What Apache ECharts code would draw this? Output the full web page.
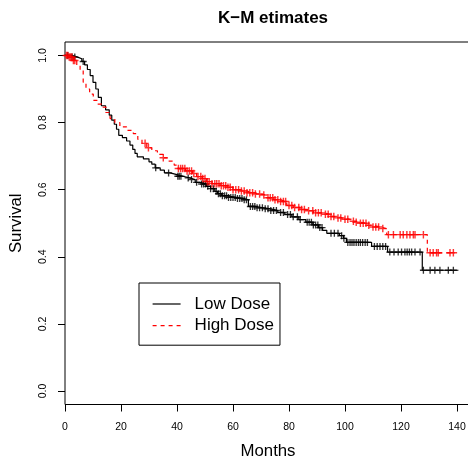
<!DOCTYPE html>
<html>
<head>
<meta charset="utf-8">
<title>K−M etimates</title>
<script src="https://cdn.jsdelivr.net/npm/echarts@6/dist/echarts.min.js"></script>
<style>
  html, body { margin: 0; padding: 0; background: #fff; }
  #chart { width: 468px; height: 458px; }
</style>
</head>
<body>
<div id="chart"></div>
<script>
// Kaplan–Meier step points [month, survival after the drop]
const lowDoseSteps = [
  [0, 1.0], [2.5, 0.995], [4.5, 0.99], [6, 0.982], [7, 0.972], [8, 0.958],
  [9, 0.94], [10, 0.92], [11, 0.9], [11.9, 0.875], [13, 0.85], [14.5, 0.838],
  [15.8, 0.822], [16.7, 0.807], [17.6, 0.795], [18.4, 0.78], [19.2, 0.762],
  [20.5, 0.755], [22, 0.745], [23.2, 0.733], [24.2, 0.72], [25, 0.708],
  [25.8, 0.698], [28, 0.692], [30, 0.683], [31, 0.676], [32.2, 0.665],
  [34, 0.658], [35.5, 0.65], [37.5, 0.645], [40, 0.64], [42, 0.635],
  [44.5, 0.63], [46.5, 0.622], [48.5, 0.617], [50.5, 0.61], [52, 0.603],
  [53.5, 0.595], [54.5, 0.588], [56, 0.582], [58, 0.577], [61, 0.574],
  [63.5, 0.57], [65.5, 0.55], [68, 0.546], [71, 0.543], [73.5, 0.538],
  [76, 0.532], [78.5, 0.526], [81, 0.519], [83.5, 0.511], [86, 0.503],
  [88.5, 0.495], [90.5, 0.487], [92, 0.479], [93.5, 0.47], [98, 0.463],
  [99.5, 0.455], [100.5, 0.443], [109.5, 0.431], [115.2, 0.414],
  [127.6, 0.36], [140.5, 0.36]
];
const highDoseSteps = [
  [0, 1.0], [1.5, 0.995], [3, 0.985], [4.2, 0.97], [5.4, 0.955], [6.5, 0.92],
  [7.5, 0.9], [8.8, 0.885], [10.1, 0.866], [11.5, 0.855], [13.1, 0.846],
  [14.6, 0.83], [16.1, 0.812], [17.8, 0.8], [19.6, 0.787], [22, 0.777],
  [24.4, 0.767], [26, 0.75], [27.5, 0.738], [29.2, 0.725], [31, 0.716],
  [33, 0.705], [35.1, 0.695], [37, 0.685], [39, 0.673], [40.5, 0.663],
  [43, 0.656], [45.5, 0.648], [47, 0.639], [49, 0.633], [50.6, 0.624],
  [52.5, 0.618], [55.4, 0.612], [57.7, 0.607], [60, 0.6], [62.5, 0.596],
  [64.9, 0.591], [67.3, 0.587], [69.6, 0.584], [72, 0.576], [74.5, 0.57],
  [76.8, 0.565], [79.2, 0.553], [81.5, 0.547], [83.9, 0.541], [86, 0.537],
  [88.7, 0.531], [92.3, 0.527], [94.5, 0.52], [97, 0.516], [99, 0.512],
  [101.8, 0.506], [103.5, 0.503], [105.4, 0.5], [107.7, 0.494],
  [109.5, 0.489], [112.5, 0.484], [114.9, 0.466], [129.4, 0.412],
  [139.3, 0.412]
];

// Censoring times (months)
const lowDoseCensored = [
  1, 2.5, 3.5, 6.5, 32.4, 37, 40.3, 40.8, 41.4, 44, 45.2, 47, 48.8, 49.5,
  50.2, 51, 52, 53, 54, 54.8, 55.5, 56.2, 57, 57.7, 58.4, 59.2, 60, 60.8,
  61.6, 62.4, 63.2, 64, 64.8, 66.2, 67, 67.8, 68.6, 69.5, 70.5, 71.5, 72.5,
  73.5, 74.5, 75.5, 77, 78, 79.5, 80.5, 81.5, 83, 84, 86.5, 87.2, 88, 88.7,
  89.5, 90.3, 91, 91.8, 95, 96.2, 97.5, 98.8, 99.6, 101, 101.8, 102.5, 103.2,
  104, 104.8, 105.5, 106.3, 107.2, 108, 110.5, 111.5, 112.5, 113.5, 114.5,
  116, 117.5, 119, 120.2, 121.4, 122.2, 123, 123.8, 125, 126.8, 128, 130.4,
  132.1, 133.9, 136.9, 138.7
];
const highDoseCensored = [
  0.5, 1, 1.5, 2, 2.5, 3, 3.5, 28.6, 29.8, 35.1, 40.5, 41.3, 42, 42.8, 43.6,
  44.4, 45.2, 46, 47.5, 48.5, 49.2, 50, 50.8, 51.5, 52.5, 53.5, 54.2, 55,
  55.8, 56.6, 57.4, 58.2, 59, 60, 61, 62, 63, 64, 65, 66, 67, 68, 69.5, 71,
  72.5, 73.3, 74.2, 75, 76, 77, 78, 78.8, 80, 81, 82, 83.5, 84.5, 85.5, 87,
  88.5, 89.5, 90.5, 91.5, 93, 94, 95, 96, 97.5, 98.5, 100, 101, 103, 104,
  105.5, 106.5, 107.5, 108.5, 110, 111, 112, 113.5, 115.5, 117.3, 119.7,
  120.8, 122.1, 123.2, 124.4, 125, 128, 130.4, 131.5, 132.7, 133.3, 137.5,
  138.7
];

const monthTicks = [0, 20, 40, 60, 80, 100, 120, 140];
const survivalTicks = [0, 0.2, 0.4, 0.6, 0.8, 1.0];

// Survival estimate in effect at time t (right-continuous step function)
function survivalAt(steps, t) {
  let s = steps[0][1];
  for (const [time, value] of steps) {
    if (time <= t) s = value; else break;
  }
  return s;
}
const censorPoints = (steps, times) => times.map(t => [t, survivalAt(steps, t)]);

const FONT = '"Liberation Sans", Arial, Helvetica, sans-serif';
// "+" censoring mark drawn as two filled bars
const PLUS = 'path://M0,4.05h10v1.9h-10z M4.05,0h1.9v10h-1.9z';

const chart = echarts.init(document.getElementById('chart'), null, { renderer: 'canvas' });

chart.setOption({
  animation: false,
  backgroundColor: '#ffffff',
  title: {
    text: 'K−M etimates',
    left: 268,
    textAlign: 'center',
    top: 5,
    textStyle: { fontFamily: FONT, fontSize: 17, fontWeight: 'bold', color: '#000' }
  },
  grid: {
    left: 65, top: 42, width: 406, height: 362.5,
    outerBoundsMode: 'none',
    containLabel: false,
    show: true, borderColor: '#000', borderWidth: 1,
    backgroundColor: 'transparent'
  },
  legend: {
    data: ['Low Dose', 'High Dose'],
    orient: 'vertical',
    left: 139, top: 283,
    padding: [12.5, 6, 11, 13],
    itemWidth: 28, itemHeight: 14, itemGap: 4.7,
    borderColor: '#000', borderWidth: 1, borderRadius: 0,
    selectedMode: false,
    itemStyle: { opacity: 0, borderWidth: 0 },
    lineStyle: { width: 1.2 },
    textStyle: { fontFamily: FONT, fontSize: 17, color: '#000', padding: [0, 0, 0, 9] }
  },
  xAxis: {
    type: 'value',
    min: 0, max: 145,
    name: 'Months',
    nameLocation: 'middle',
    nameGap: 38,
    nameTextStyle: { fontFamily: FONT, fontSize: 16.8, color: '#000' },
    axisLine: { show: false, onZero: false },
    splitLine: { show: false },
    axisTick: {
      show: true, inside: false, length: 7,
      customValues: monthTicks,
      lineStyle: { color: '#000', width: 1 }
    },
    axisLabel: {
      customValues: monthTicks,
      margin: 17,
      fontFamily: FONT, fontSize: 10.5, color: '#000',
      formatter: v => String(v)
    }
  },
  yAxis: {
    type: 'value',
    min: -0.04, max: 1.04,
    name: 'Survival',
    nameLocation: 'middle',
    nameGap: 40,
    nameRotate: 90,
    nameTextStyle: { fontFamily: FONT, fontSize: 16.8, color: '#000' },
    axisLine: { show: false, onZero: false },
    splitLine: { show: false },
    axisTick: {
      show: true, inside: false, length: 7,
      customValues: survivalTicks,
      lineStyle: { color: '#000', width: 1 }
    },
    axisLabel: {
      customValues: survivalTicks,
      rotate: 90,
      margin: 16,
      fontFamily: FONT, fontSize: 10.5, color: '#000',
      formatter: v => v.toFixed(1)
    }
  },
  series: [
    {
      name: 'Low Dose',
      type: 'line',
      step: 'end',
      data: lowDoseSteps,
      symbol: 'none',
      clip: true,
      lineStyle: { color: '#000000', width: 1.2 },
      itemStyle: { color: '#000000' },
      z: 3
    },
    {
      name: 'High Dose',
      type: 'line',
      step: 'end',
      data: highDoseSteps,
      symbol: 'none',
      clip: true,
      lineStyle: { color: '#ff0000', width: 1.2, type: [4, 4] },
      itemStyle: { color: '#ff0000' },
      z: 3
    },
    {
      name: 'Low Dose censored',
      type: 'scatter',
      data: censorPoints(lowDoseSteps, lowDoseCensored),
      symbol: PLUS,
      symbolSize: 7,
      itemStyle: { color: '#000000' },
      z: 4
    },
    {
      name: 'High Dose censored',
      type: 'scatter',
      data: censorPoints(highDoseSteps, highDoseCensored),
      symbol: PLUS,
      symbolSize: 7.5,
      itemStyle: { color: '#ff0000' },
      z: 4
    }
  ]
});
</script>
</body>
</html>
